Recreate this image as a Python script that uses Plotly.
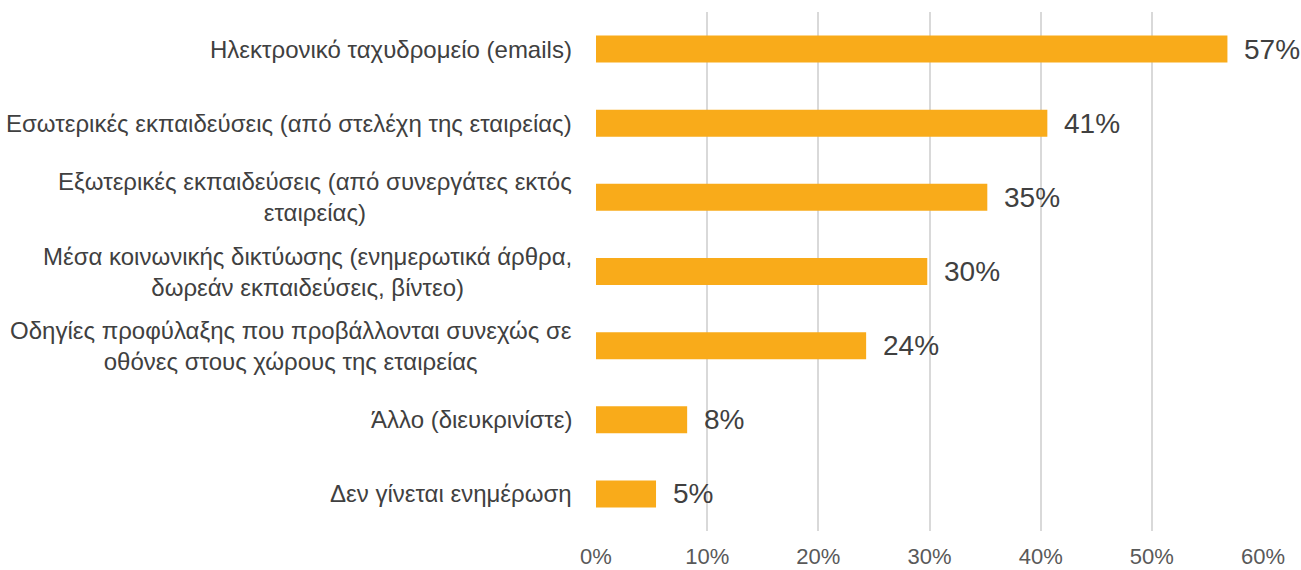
import plotly.graph_objects as go

categories = [
    "Ηλεκτρονικό ταχυδρομείο (emails)",
    "Εσωτερικές εκπαιδεύσεις (από στελέχη της εταιρείας)",
    "Εξωτερικές εκπαιδεύσεις (από συνεργάτες εκτός<br>εταιρείας)",
    "Μέσα κοινωνικής δικτύωσης (ενημερωτικά άρθρα,<br>δωρεάν εκπαιδεύσεις, βίντεο)",
    "Οδηγίες προφύλαξης που προβάλλονται συνεχώς σε<br>οθόνες στους χώρους της εταιρείας",
    "Άλλο (διευκρινίστε)",
    "Δεν γίνεται ενημέρωση",
]
values = [56.8, 40.6, 35.2, 29.8, 24.3, 8.2, 5.4]
value_labels = ["57%", "41%", "35%", "30%", "24%", "8%", "5%"]
tick_vals = [0, 10, 20, 30, 40, 50, 60]
tick_text = ["0%", "10%", "20%", "30%", "40%", "50%", "60%"]

FONT = "Liberation Sans, Arial, sans-serif"

fig = go.Figure()
fig.add_trace(go.Bar(
    y=categories, x=values, orientation="h",
    marker=dict(color="#F9AB1A", line=dict(width=0)),
    hoverinfo="skip",
))

annotations = []
for c, v, t in zip(categories, values, value_labels):
    annotations.append(dict(
        x=v, y=c, xref="x", yref="y", text=t, showarrow=False,
        xanchor="left", yanchor="middle", xshift=15,
        font=dict(family=FONT, size=28, color="#404040"),
    ))
    annotations.append(dict(
        x=0, y=c, xref="paper", yref="y", text=c, showarrow=False,
        xanchor="right", yanchor="middle", xshift=-22, align="center",
        font=dict(family=FONT, size=24, color="#404040"),
    ))

fig.update_layout(
    width=1301, height=570,
    margin=dict(l=596, r=38, t=12, b=39),
    paper_bgcolor="white", plot_bgcolor="white",
    bargap=0.636,
    showlegend=False,
    annotations=annotations,
    xaxis=dict(
        range=[0, 60], tickvals=tick_vals, ticktext=tick_text,
        showgrid=True, gridcolor="#D9D9D9", gridwidth=2,
        zeroline=False, showline=False, ticks="",
        ticklabelstandoff=10,
        tickfont=dict(family=FONT, size=22, color="#595959"),
        automargin=False,
    ),
    yaxis=dict(
        categoryorder="array", categoryarray=categories[::-1],
        showticklabels=False, showgrid=False, zeroline=False, showline=False,
        automargin=False,
    ),
)

fig.write_html("out.html", config={"displayModeBar": False},
               post_script="document.body.style.margin='0';")
